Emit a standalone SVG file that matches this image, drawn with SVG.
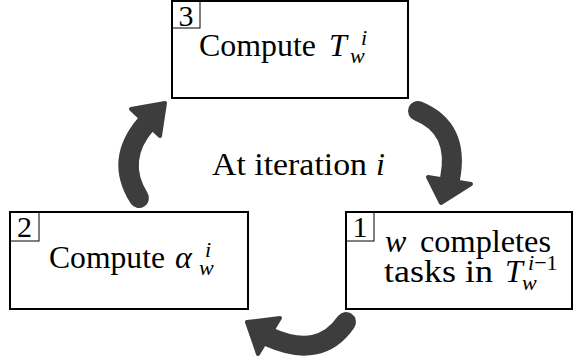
<svg xmlns="http://www.w3.org/2000/svg" width="574" height="363" viewBox="0 0 574 363">
<style>
.box{fill:#fff;stroke:#000;stroke-width:2}
.num{fill:none;stroke:#000;stroke-width:1}
text{font-family:'Liberation Serif','DejaVu Serif',serif;fill:#000}
.t{font-size:32px}
.n{font-size:30px;text-anchor:middle}
.s{font-size:22px}
.it{font-style:italic}
.shaft{fill:none;stroke:#3d3d3d;stroke-width:20;stroke-linecap:round}
.head{fill:#3d3d3d;stroke:#3d3d3d;stroke-width:4;stroke-linejoin:round}
</style>
<rect width="574" height="363" fill="#fff"/>
<g id="node3">
<rect class="box" x="172" y="1" width="236" height="97"/>
<rect class="num" x="172" y="1" width="28" height="27"/>
<text class="n" x="186" y="26">3</text>
<text class="t" x="199" y="56" textLength="117" lengthAdjust="spacingAndGlyphs">Compute</text>
<text class="t it" x="329" y="56">T</text>
<text class="s it" x="361" y="45">i</text>
<text class="s it" x="350" y="63">w</text>
</g>
<g id="node2">
<rect class="box" x="10" y="212" width="238" height="97"/>
<rect class="num" x="10" y="212" width="29" height="29"/>
<text class="n" x="24.5" y="237">2</text>
<text class="t" x="49" y="268" textLength="116" lengthAdjust="spacingAndGlyphs">Compute</text>
<text class="t it" x="175" y="268">α</text>
<text class="s it" x="205" y="257">i</text>
<text class="s it" x="199" y="275">w</text>
</g>
<g id="node1">
<rect class="box" x="346" y="212" width="226" height="97"/>
<rect class="num" x="346" y="212" width="28" height="29"/>
<text class="n" x="360" y="237">1</text>
<text class="t it" x="385" y="252">w</text>
<text class="t" x="420" y="252" textLength="131" lengthAdjust="spacingAndGlyphs">completes</text>
<text class="t" x="384" y="282" textLength="109" lengthAdjust="spacingAndGlyphs">tasks in</text>
<text class="t it" x="505" y="282">T</text>
<text class="s" x="528" y="270"><tspan class="it">i</tspan>−1</text>
<text class="s it" x="522" y="290">w</text>
</g>
<g id="label">
<text class="t" x="212" y="175" textLength="155" lengthAdjust="spacingAndGlyphs">At iteration</text>
<text class="t it" x="376" y="175">i</text>
</g>
<g id="connectors">
<path class="shaft" d="M139,198 Q115,160 146,124"/>
<polygon class="head" points="131,109 165,103 160,136"/>
<path class="shaft" d="M418,111 Q460,128 450,179"/>
<polygon class="head" points="428,177 471,184 441,203"/>
<path class="shaft" d="M346,322 Q320,360 269,337"/>
<polygon class="head" points="247,322 280,318 258,354"/>
</g>
</svg>
